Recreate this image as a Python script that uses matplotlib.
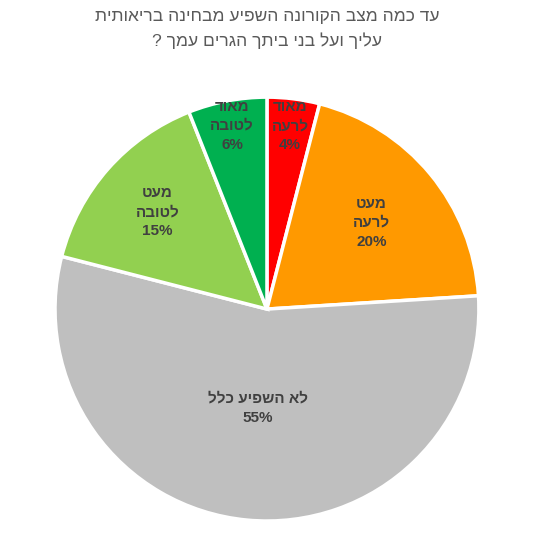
import matplotlib
matplotlib.use("Agg")
import matplotlib.pyplot as plt
import numpy as np

plt.rcParams['font.family'] = ['Liberation Sans', 'DejaVu Sans']

# Data (logical Hebrew order)
categories = ["מאוד לרעה", "מעט לרעה", "לא השפיע כלל", "מעט לטובה", "מאוד לטובה"]
values = [4, 20, 55, 15, 6]
colors = ["#FF0000", "#FF9900", "#BFBFBF", "#92D050", "#00B050"]
title_lines = ["עד כמה מצב הקורונה השפיע מבחינה בריאותית", "עליך ועל בני ביתך הגרים עמך ?"]
label_lines = [["מאוד", "לרעה"], ["מעט", "לרעה"], ["לא השפיע כלל"], ["מעט", "לטובה"], ["מאוד", "לטובה"]]
label_dist = [0.87, 0.64, 0.47, 0.69, 0.88]


def vis(s):
    # Render RTL text visually for a LTR renderer
    return s[::-1]


fig = plt.figure(figsize=(5.38, 5.57), dpi=100)
fig.patch.set_facecolor("white")

ax = fig.add_axes([0.1022, 0.0646, 0.788, 0.761])
wedges, _ = ax.pie(values, colors=colors, startangle=90, counterclock=False,
                   wedgeprops=dict(edgecolor="white", linewidth=2.5))
for w in wedges:
    w.set_clip_on(False)
ax.set_xlim(-1, 1)
ax.set_ylim(-1, 1)
ax.set_aspect("equal")

for w, lines, v, d in zip(wedges, label_lines, values, label_dist):
    ang = np.deg2rad((w.theta1 + w.theta2) / 2)
    x, y = d * np.cos(ang), d * np.sin(ang)
    txt = "\n".join([vis(l) for l in lines] + [f"{v}%"])
    ax.text(x, y, txt, ha="center", va="center", fontsize=11, fontweight="bold",
            color="#404040", linespacing=1.45)

fig.text(0.4963, 1 - 16 / 557, vis(title_lines[0]), ha="center", va="center",
         fontsize=12.5, color="#595959")
fig.text(0.4963, 1 - 41 / 557, vis(title_lines[1]), ha="center", va="center",
         fontsize=12.5, color="#595959")

fig.savefig("out.png", dpi=100, facecolor="white")
